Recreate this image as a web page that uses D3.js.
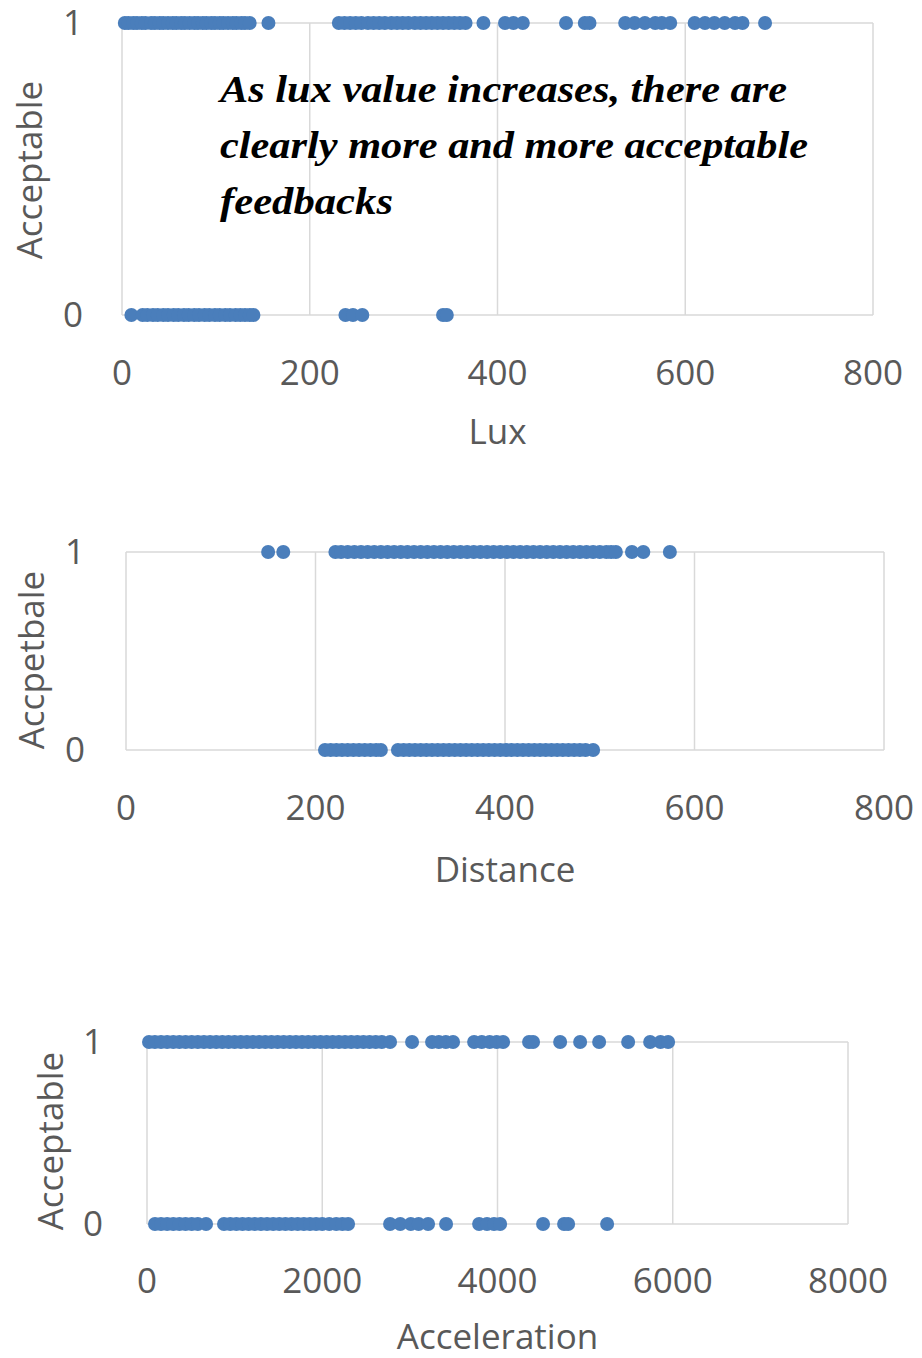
<!DOCTYPE html>
<html>
<head>
<meta charset="utf-8">
<style>
  body { margin: 0; background: #fff; }
  svg { display: block; }
</style>
</head>
<body>
<svg width="922" height="1358" font-family="'Open Sans', sans-serif"></svg>
<script src="https://d3js.org/d3.v7.min.js"></script>
<script>

// lux readings, by feedback
var luxOk = [3, 7, 12, 16, 21, 25, 31, 35, 40, 44, 49, 54, 58, 63, 67, 72, 77, 81, 86, 90, 95, 99, 104, 108, 113, 118, 122, 127, 131, 136,
             156,
             231, 237, 243, 249, 255, 262, 268, 274, 280, 287, 293, 299, 305, 312, 318, 324, 330, 336, 342, 348, 354, 360, 366,
             385, 408, 417, 427, 473, 493, 498,
             536, 546, 557, 568, 575, 584,
             610, 621, 631, 642, 653, 661, 685];
var luxNo = [10, 22, 27, 33, 38, 44, 49, 55, 60, 66, 71, 77, 82, 88, 93, 99, 104, 110, 115, 121, 126, 131, 136, 140,
             238, 246, 256, 342, 346];

// distance readings
var distOk = [150, 166,
              221, 227, 234, 241, 248, 255, 262, 269, 276, 283, 290, 297, 304, 311, 318, 325, 332, 339, 346, 353, 360, 367,
              374, 381, 388, 395, 402, 409, 416, 423, 430, 437, 444, 451, 458, 465, 472, 479, 486, 493, 500, 507, 512, 517,
              534, 546, 574];
var distNo = [210, 216, 222, 228, 234, 240, 246, 252, 258, 264, 269,
              287, 293, 299, 305, 311, 317, 323, 329, 335, 341, 347, 353, 359, 365, 371, 377, 383, 389, 395, 401, 407,
              413, 419, 425, 431, 437, 443, 449, 455, 461, 467, 473, 479, 485, 493];

// acceleration readings
var accOk = [23, 90, 160, 230, 300, 370, 440, 510, 580, 650, 720, 790, 860, 930, 1000, 1070, 1140, 1210, 1280, 1350, 1420,
             1490, 1560, 1630, 1700, 1770, 1840, 1910, 1980, 2050, 2120, 2190, 2260, 2330, 2400, 2470, 2540, 2610, 2680, 2774,
             3025, 3253, 3330, 3410, 3493, 3733, 3820, 3910, 3990, 4064, 4360, 4406, 4715, 4943, 5160, 5491, 5742, 5860, 5947];
var accNo = [91, 160, 230, 300, 370, 440, 510, 580, 674,
             879, 950, 1020, 1090, 1160, 1230, 1300, 1370, 1440, 1510, 1580, 1650, 1720, 1790, 1860, 1930, 2000, 2080,
             2160, 2230, 2295,
             2774, 2890, 3010, 3100, 3208, 3413, 3790, 3880, 3960, 4030, 4520, 4760, 4806, 5251];

var ticksSmall = [0, 200, 400, 600, 800];
var ticksAcc = [0, 2000, 4000, 6000, 8000];

var svg = d3.select("svg");
var grey = "#d9d9d9", txt = "#595959", blue = "#4a7ebb";
var fs = 35;

function panel(o) {
  var x = d3.scaleLinear().domain([0, o.max]).range([o.left, o.right]);
  var y = d3.scaleLinear().domain([0, 1]).range([o.bottom, o.top]);
  var g = svg.append("g");

  // vertical grid
  g.selectAll(".vg").data(o.ticks.slice(1)).enter().append("line")
    .attr("x1", x).attr("x2", x).attr("y1", o.top).attr("y2", o.bottom)
    .attr("stroke", grey).attr("stroke-width", 1.5);
  // horizontal lines at 0 and 1
  g.selectAll(".hg").data([0, 1]).enter().append("line")
    .attr("x1", o.left).attr("x2", o.right).attr("y1", y).attr("y2", y)
    .attr("stroke", grey).attr("stroke-width", 1.5);
  g.append("line")
    .attr("x1", o.left).attr("x2", o.left).attr("y1", o.top).attr("y2", o.bottom)
    .attr("stroke", grey).attr("stroke-width", 1.5);

  // tick labels
  g.selectAll(".xt").data(o.ticks).enter().append("text")
    .attr("x", x).attr("y", o.bottom + o.tickDy)
    .attr("text-anchor", "middle").attr("font-size", fs).attr("fill", txt)
    .text(function(d) { return d; });
  g.selectAll(".yt").data([0, 1]).enter().append("text")
    .attr("x", o.ytx).attr("y", function(d) { return y(d) + 12; })
    .attr("text-anchor", "end").attr("font-size", fs).attr("fill", txt)
    .text(function(d) { return d; });

  g.append("text")
    .attr("x", (o.left + o.right) / 2).attr("y", o.bottom + o.labDy)
    .attr("text-anchor", "middle").attr("font-size", fs).attr("fill", txt)
    .text(o.xlabel);
  g.append("text")
    .attr("transform", "translate(" + o.ylx + "," + ((o.top + o.bottom) / 2 + o.yly) + ") rotate(-90)")
    .attr("text-anchor", "middle").attr("font-size", fs).attr("fill", txt)
    .text(o.ylabel);

  g.selectAll(".ok").data(o.ok).enter().append("circle")
    .attr("cx", x).attr("cy", y(1)).attr("r", 7).attr("fill", blue);
  g.selectAll(".no").data(o.no).enter().append("circle")
    .attr("cx", x).attr("cy", y(0)).attr("r", 7).attr("fill", blue);
  return g;
}

var p1 = panel({ left: 122, right: 873, top: 23, bottom: 315, max: 800, ticks: ticksSmall,
  ok: luxOk, no: luxNo, xlabel: "Lux", ylabel: "Acceptable", ylx: 42, yly: 1, ytx: 83, tickDy: 70, labDy: 129 });

panel({ left: 126, right: 884, top: 552, bottom: 750, max: 800, ticks: ticksSmall,
  ok: distOk, no: distNo, xlabel: "Distance", ylabel: "Accpetbale", ylx: 44, yly: 9, ytx: 85, tickDy: 70, labDy: 132 });

panel({ left: 147, right: 848, top: 1042, bottom: 1224, max: 8000, ticks: ticksAcc,
  ok: accOk, no: accNo, xlabel: "Acceleration", ylabel: "Acceptable", ylx: 63, yly: 8, ytx: 103, tickDy: 69, labDy: 125 });

// annotation on the lux chart
var note = ["As lux value increases, there are", "clearly more and more acceptable", "feedbacks"];
var noteW = [567, 588, 173];
p1.append("text")
  .attr("font-family", "'Liberation Serif', 'Times New Roman', serif")
  .attr("font-style", "italic").attr("font-weight", "bold")
  .attr("font-size", 37).attr("fill", "#000")
  .selectAll("tspan").data(note).enter().append("tspan")
    .attr("x", 220).attr("y", function(d, i) { return 102 + i * 56; })
    .attr("textLength", function(d, i) { return noteW[i]; })
    .attr("lengthAdjust", "spacingAndGlyphs")
    .text(function(d) { return d; });

</script>
</body>
</html>
